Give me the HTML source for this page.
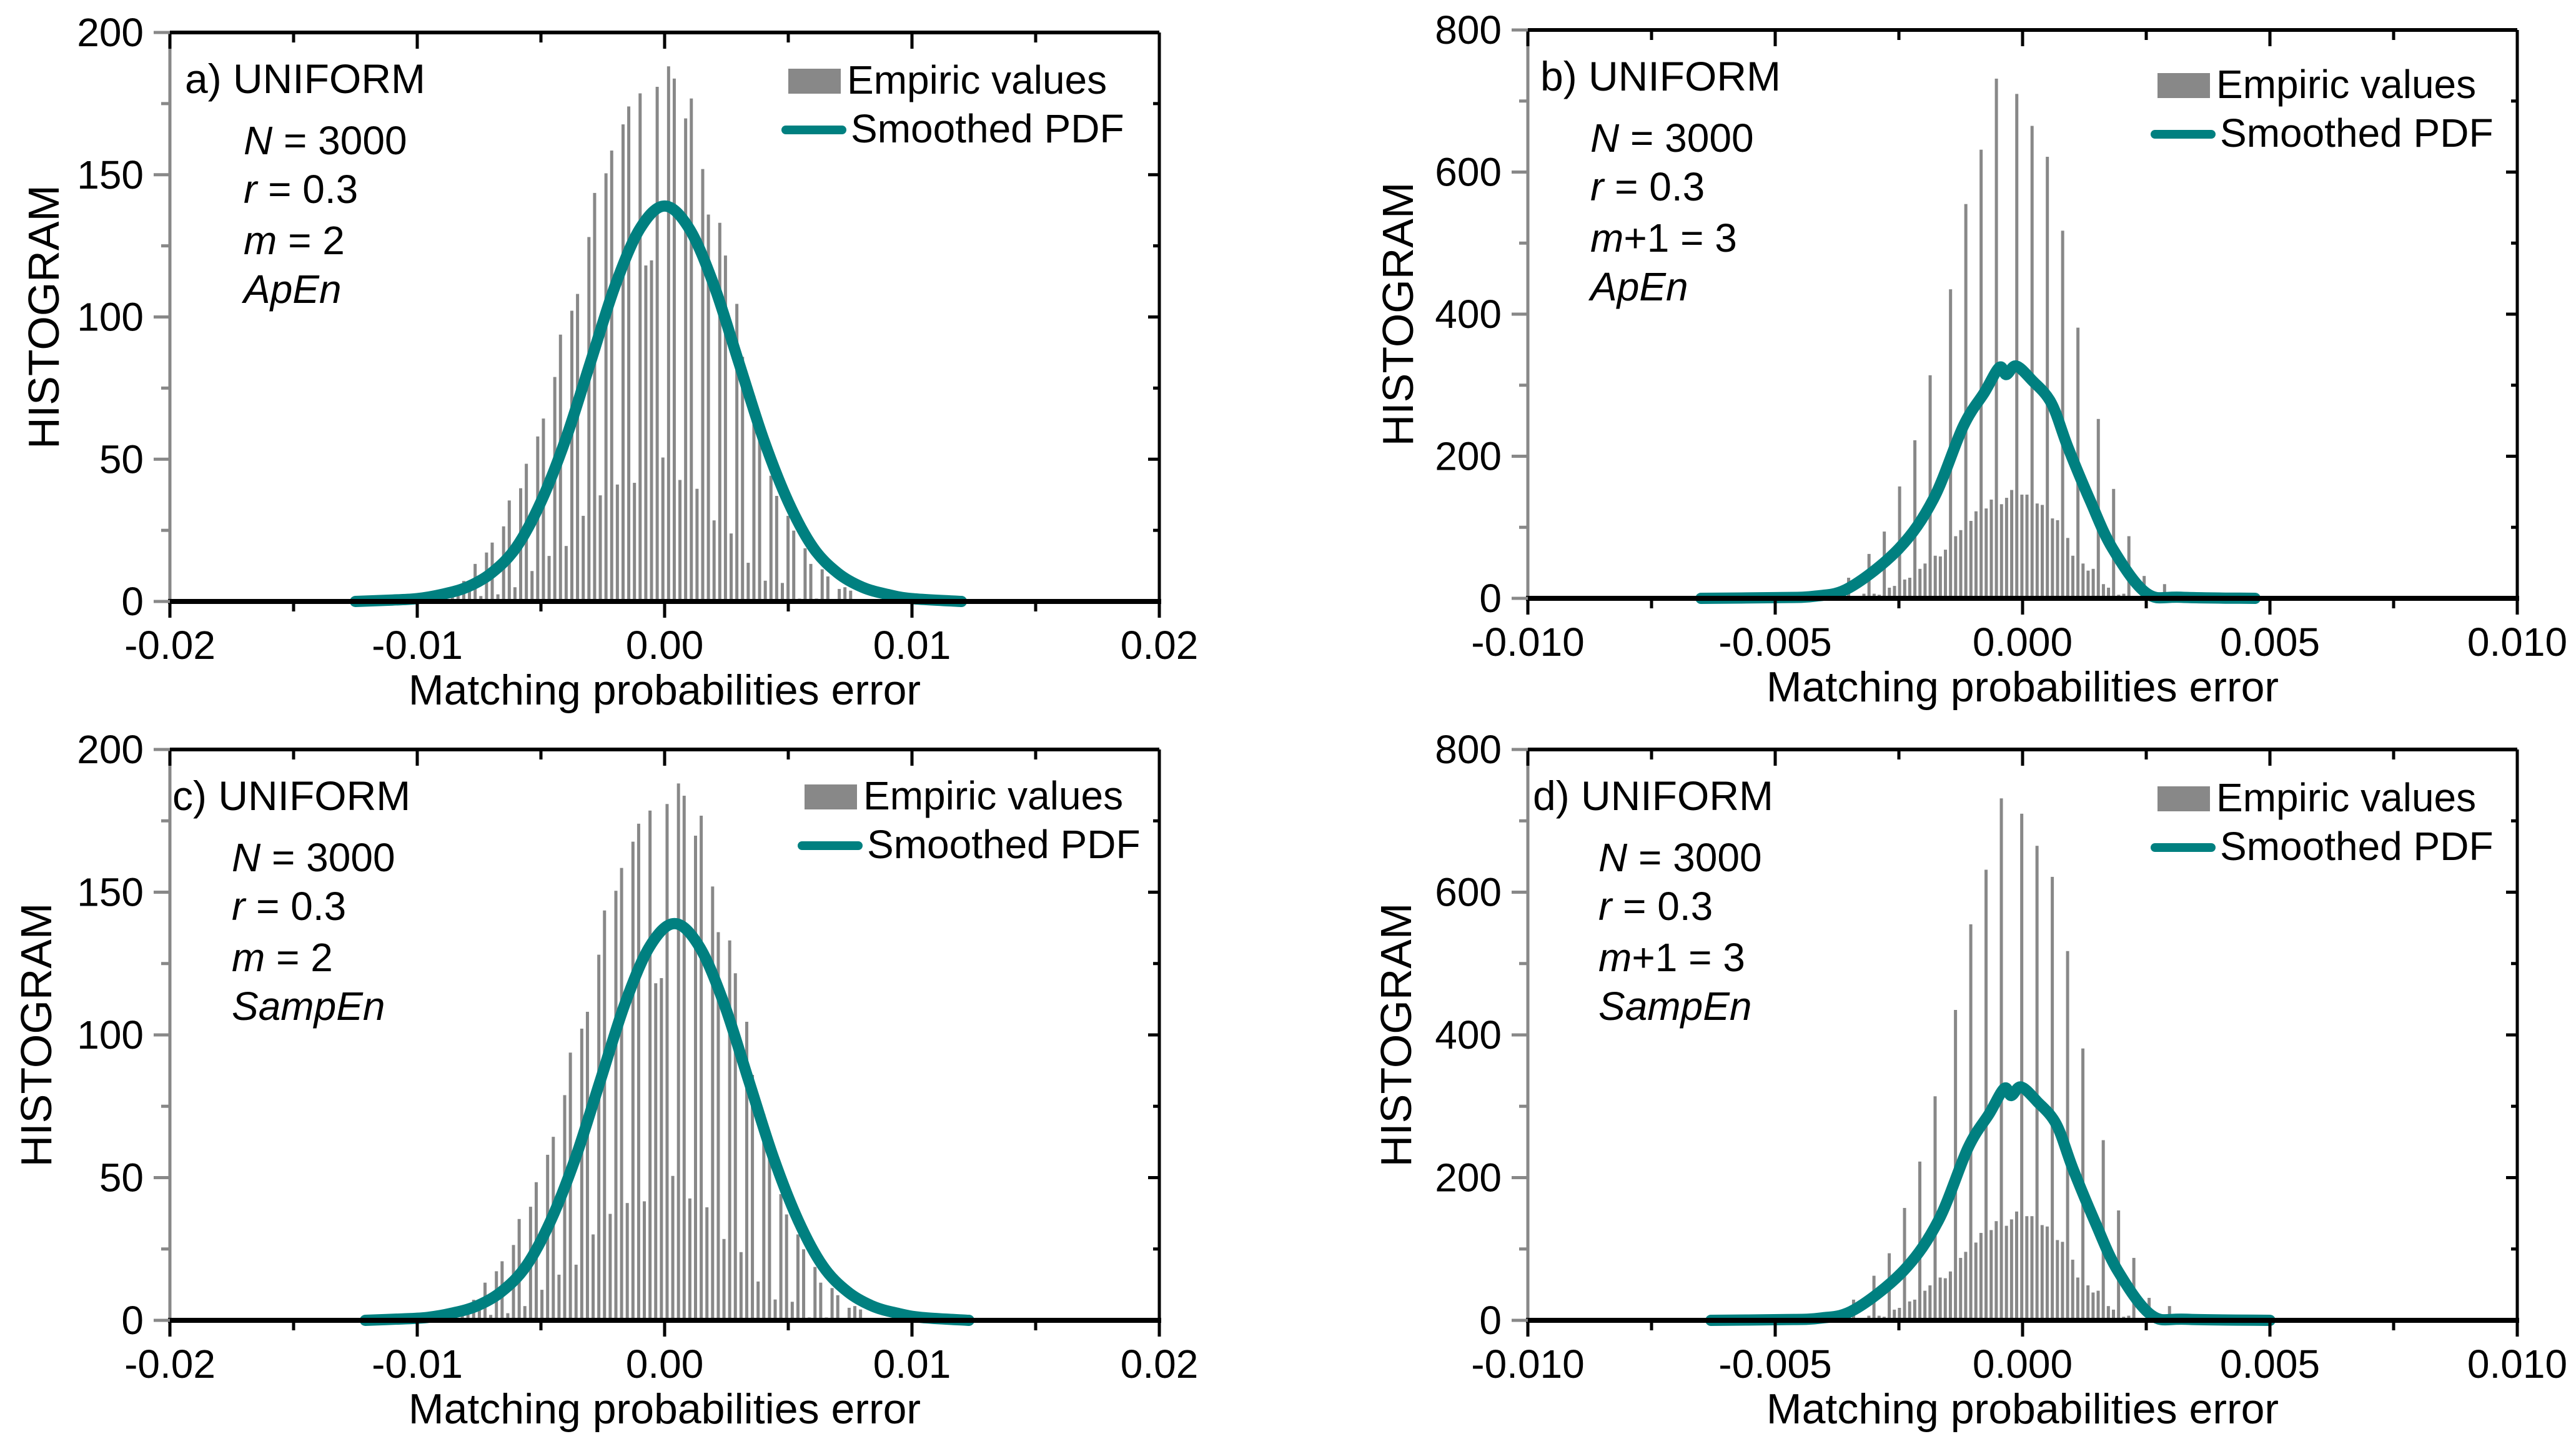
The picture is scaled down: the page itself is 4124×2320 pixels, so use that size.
<!DOCTYPE html>
<html><head><meta charset="utf-8"><style>
html,body{margin:0;padding:0;background:#fff;}
svg{display:block;font-family:"Liberation Sans",Arial,sans-serif;}
</style></head><body>
<svg id="fig" width="4124" height="2320" viewBox="0 0 4124 2320" xmlns="http://www.w3.org/2000/svg"></svg>
<script>
// ---- data: panel a (ApEn, m=2) ----
const barsA = [3.4,2.5,7.2,5.0,13.2,1.9,17.2,20.7,2.5,26.4,35.5,5.0,39.8,48.4,10.7,58.0,64.3,16.0,78.9,93.8,19.5,102.2,108.1,30.1,128.1,143.6,37.3,150.5,158.5,41.1,167.7,174.0,41.7,178.6,118.1,119.9,180.9,50.6,188.1,183.8,42.7,169.8,176.8,39.6,152.0,136.0,28.5,133.1,121.6,23.9,104.6,86.0,13.6,72.2,58.4,7.3,44.2,37.1,6.5,30.1,24.9,1.0,18.7,13.2,1.0,11.3,8.8,0.6,4.4,5.0,3.8];
const curveAx = [-0.0125,-0.011,-0.010,-0.009,-0.008,-0.007,-0.006,-0.005,-0.004,-0.003,-0.002,-0.001,0,0.001,0.002,0.003,0.004,0.005,0.006,0.007,0.008,0.009,0.010,0.012];
const curveAy = [0,0.5,1,2.5,5,10,19,35,57,84,111,131,139,131,111,84,57,35,19,10,5,2.5,1,0];
// ---- data: panel b (ApEn, m+1=3) ----
const barsB = [10,0,0,29,2,2,6.5,62.5,6.5,5,94,15,17.5,157.5,26.5,29,222.5,41.5,49,314,60,59,68.5,435,87.5,96,555,109,122.5,631.5,126.5,139,731.5,132.5,141.5,152.5,710,146,146,665,133.5,131.5,621.5,112.5,110,517.5,85,60,381,49,39,41.5,252.5,20,15,154,5,6.5,87.5,1.5,1.5,31.5,1.5,0,0,20];
const curveBx = [-0.0065,-0.005,-0.0042,-0.0035,-0.0025,-0.0018,-0.0012,-0.00077,-0.00047,-0.00033,-0.00013,0.00019,0.00058,0.00092,0.00137,0.00182,0.0025,0.0032,0.0047];
const curveBy = [0,1,3,15,70,140,242,290,325,315,327,307,275,212,137,70,7.5,1.5,0];
// ---- data: panel c (SampEn, m=2) ----
const barsC = [3.4,2.5,7.2,5.0,13.2,1.9,17.2,20.7,2.5,26.4,35.5,5.0,39.8,48.4,10.7,58.0,64.3,16.0,78.9,93.8,19.5,102.2,108.1,30.1,128.1,143.6,37.3,150.5,158.5,41.1,167.7,174.0,41.7,178.6,118.1,119.9,180.9,50.6,188.1,183.8,42.7,169.8,176.8,39.6,152.0,136.0,28.5,133.1,121.6,23.9,104.6,86.0,13.6,72.2,58.4,7.3,44.2,37.1,6.5,30.1,24.9,1.0,18.7,13.2,1.0,11.3,8.8,0.6,4.4,5.0,3.8];
const curveCx = [-0.0121,-0.0106,-0.0096,-0.0086,-0.0076,-0.0066,-0.0056,-0.0046,-0.0036,-0.0026,-0.0016,-0.0006,0.0004,0.0014,0.0024,0.0034,0.0044,0.0054,0.0064,0.0074,0.0084,0.0094,0.0104,0.0123];
const curveCy = [0,0.5,1,2.5,5,10,19,35,57,84,111,131,139,131,111,84,57,35,19,10,5,2.5,1,0];
// ---- data: panel d (SampEn, m+1=3) ----
const barsD = [10,0,0,29,2,2,6.5,62.5,6.5,5,94,15,17.5,157.5,26.5,29,222.5,41.5,49,314,60,59,68.5,435,87.5,96,555,109,122.5,631.5,126.5,139,731.5,132.5,141.5,152.5,710,146,146,665,133.5,131.5,621.5,112.5,110,517.5,85,60,381,49,39,41.5,252.5,20,15,154,5,6.5,87.5,1.5,1.5,31.5,1.5,0,0,20];
const curveDx = [-0.0063,-0.0049,-0.0041,-0.0034,-0.0024,-0.0017,-0.0011,-0.00067,-0.00037,-0.00023,-0.00003,0.00029,0.00068,0.00102,0.00147,0.00192,0.0026,0.0033,0.005];
const curveDy = [0,1,3,15,70,140,242,290,325,315,327,307,275,212,137,70,7.5,1.5,0];
// tick labels
const xTicksWide = [-0.02,-0.01,0,0.01,0.02];
const xTickLabelsWide = ["-0.02","-0.01","0.00","0.01","0.02"];
const xTicksNarrow = [-0.01,-0.005,0,0.005,0.01];
const xTickLabelsNarrow = ["-0.010","-0.005","0.000","0.005","0.010"];
const yTicks200 = [0,50,100,150,200];
const yTicks800 = [0,200,400,600,800];

const NS="http://www.w3.org/2000/svg";
const svg=document.getElementById('fig');
function mk(tag,attrs,parent){const e=document.createElementNS(NS,tag);for(const k in attrs)e.setAttribute(k,attrs[k]);(parent||svg).appendChild(e);return e;}
function txt(s,x,y,size,anchor,parent,style){const t=mk('text',{x:x,y:y,'font-size':size,'text-anchor':anchor||'start',fill:'#000'},parent);if(style)t.setAttribute('font-style',style);t.textContent=s;return t;}

function catmull(pts){let d='M'+pts[0][0]+','+pts[0][1];for(let i=0;i<pts.length-1;i++){const p0=pts[Math.max(0,i-1)],p1=pts[i],p2=pts[i+1],p3=pts[Math.min(pts.length-1,i+2)];const c1x=p1[0]+(p2[0]-p0[0])/6,c1y=p1[1]+(p2[1]-p0[1])/6,c2x=p2[0]-(p3[0]-p1[0])/6,c2y=p2[1]-(p3[1]-p1[1])/6;d+=' C'+c1x+','+c1y+' '+c2x+','+c2y+' '+p2[0]+','+p2[1];}return d;}

function panel(cfg){
  const g=mk('g',{});
  
  
  const L=cfg.L,R=cfg.R,T=cfg.T,B=cfg.B;
  const sx=v=>L+(v-cfg.xmin)/(cfg.xmax-cfg.xmin)*(R-L);
  const sy=v=>B-v/cfg.ymax*(B-T);
  const bg=mk('g',{},g);
  
  
  cfg.bars.forEach((v,i)=>{
    const xc=sx(cfg.binStart+i*cfg.binW);
    const r=mk('rect',{x:xc-2.5,y:sy(v),width:5,height:Math.max(0,B-sy(v)),fill:'#888'},bg);
    
    
  });
  const pts=cfg.cx.map((x,i)=>[sx(x),sy(cfg.cy[i])]);
  const c=mk('path',{d:catmull(pts),fill:'none',stroke:'#008080','stroke-width':18,'stroke-linejoin':'round','stroke-linecap':'round'},g);
  
  
  const ax=mk('g',{},g);
  
  
  mk('line',{x1:L,y1:T,x2:L,y2:B,stroke:'#888','stroke-width':5},ax);
  mk('line',{x1:L,y1:T,x2:R,y2:T,stroke:'#000','stroke-width':6},ax);
  mk('line',{x1:R,y1:T,x2:R,y2:B,stroke:'#000','stroke-width':5},ax);
  mk('line',{x1:L-3,y1:B,x2:R+3,y2:B,stroke:'#000','stroke-width':8},ax);
  const xt=cfg.xticks;
  for(let i=0;i<xt.length;i++){
    const x=sx(xt[i]);
    mk('line',{x1:x,y1:B,x2:x,y2:B+26,stroke:'#000','stroke-width':5},ax);
    mk('line',{x1:x,y1:T,x2:x,y2:T+26,stroke:'#000','stroke-width':5},ax);
    if(i<xt.length-1){const xm=sx((xt[i]+xt[i+1])/2);
      mk('line',{x1:xm,y1:B,x2:xm,y2:B+16,stroke:'#000','stroke-width':5},ax);
      mk('line',{x1:xm,y1:T,x2:xm,y2:T+16,stroke:'#000','stroke-width':5},ax);}
    const tl=txt(cfg.xlabels[i],x,B+92,64,'middle',ax);
    
    
  }
  const yt=cfg.yticks;
  for(let i=0;i<yt.length;i++){
    const y=sy(yt[i]);
    mk('line',{x1:L-26,y1:y,x2:L,y2:y,stroke:'#888','stroke-width':5},ax);
    mk('line',{x1:R-18,y1:y,x2:R,y2:y,stroke:'#000','stroke-width':5},ax);
    if(i<yt.length-1){const ym=sy((yt[i]+yt[i+1])/2);
      mk('line',{x1:L-14,y1:ym,x2:L,y2:ym,stroke:'#888','stroke-width':5},ax);
      mk('line',{x1:R-10,y1:ym,x2:R,y2:ym,stroke:'#000','stroke-width':5},ax);}
    const tl=txt(String(yt[i]),L-42,y+22,64,'end',ax);
    
    
  }
  const xtit=txt('Matching probabilities error',(L+R)/2,B+165,68,'middle',g);
  
  
  const yx=cfg.ytx,yy=(T+B)/2;
  const ytit=txt('HISTOGRAM',yx,yy,70,'middle',g);
  ytit.setAttribute('transform','rotate(-90 '+yx+' '+yy+')');
  
  
  const an=mk('g',{},g);
  
  
  txt(cfg.label,L+cfg.ax0,T+97,66,'start',an);
  const ix=L+cfg.ax1;
  const t1=txt('',ix,T+195,64,'start',an);
  t1.innerHTML='<tspan font-style="italic">N</tspan> = 3000';
  const t2=txt('',ix,T+273,64,'start',an);
  t2.innerHTML='<tspan font-style="italic">r</tspan> = 0.3';
  const t3=txt('',ix,T+355,64,'start',an);
  t3.innerHTML=cfg.mtext;
  txt(cfg.method,ix,T+433,64,'start',an,'italic');
  const lg=mk('g',{},g);
  
  
  mk('rect',{x:cfg.lgx,y:cfg.lgy,width:84,height:40,fill:'#888'},lg);
  txt('Empiric values',cfg.lgx+94,cfg.lgy+40,64,'start',lg);
  mk('line',{x1:cfg.lgx-4,y1:cfg.lgy+98,x2:cfg.lgx+86,y2:cfg.lgy+98,stroke:'#008080','stroke-width':14,'stroke-linecap':'round'},lg);
  txt('Smoothed PDF',cfg.lgx+100,cfg.lgy+118,64,'start',lg);
}

panel({id:'a',L:272,R:1856,T:52,B:963,xmin:-0.02,xmax:0.02,ymax:200,bars:barsA,binStart:-0.00858,binW:0.00023,cx:curveAx,cy:curveAy,xticks:xTicksWide,xlabels:xTickLabelsWide,yticks:yTicks200,ytx:94,label:'a)  UNIFORM',ax0:24,ax1:118,mtext:'<tspan font-style="italic">m</tspan> = 2',method:'ApEn',lgx:1262,lgy:110});
panel({id:'b',L:2446,R:4030,T:48,B:958,xmin:-0.01,xmax:0.01,ymax:800,bars:barsB,binStart:-0.003825,binW:0.000103,cx:curveBx,cy:curveBy,xticks:xTicksNarrow,xlabels:xTickLabelsNarrow,yticks:yTicks800,ytx:2262,label:'b)  UNIFORM',ax0:20,ax1:100,mtext:'<tspan font-style="italic">m</tspan>+1 = 3',method:'ApEn',lgx:3454,lgy:117});
panel({id:'c',L:272,R:1856,T:1200,B:2114,xmin:-0.02,xmax:0.02,ymax:200,bars:barsC,binStart:-0.00818,binW:0.00023,cx:curveCx,cy:curveCy,xticks:xTicksWide,xlabels:xTickLabelsWide,yticks:yTicks200,ytx:82,label:'c)  UNIFORM',ax0:4,ax1:99,mtext:'<tspan font-style="italic">m</tspan> = 2',method:'SampEn',lgx:1288,lgy:1256});
panel({id:'d',L:2446,R:4030,T:1200,B:2114,xmin:-0.01,xmax:0.01,ymax:800,bars:barsD,binStart:-0.003725,binW:0.000103,cx:curveDx,cy:curveDy,xticks:xTicksNarrow,xlabels:xTickLabelsNarrow,yticks:yTicks800,ytx:2259,label:'d)  UNIFORM',ax0:8,ax1:113,mtext:'<tspan font-style="italic">m</tspan>+1 = 3',method:'SampEn',lgx:3454,lgy:1259});
</script>
</body></html>
